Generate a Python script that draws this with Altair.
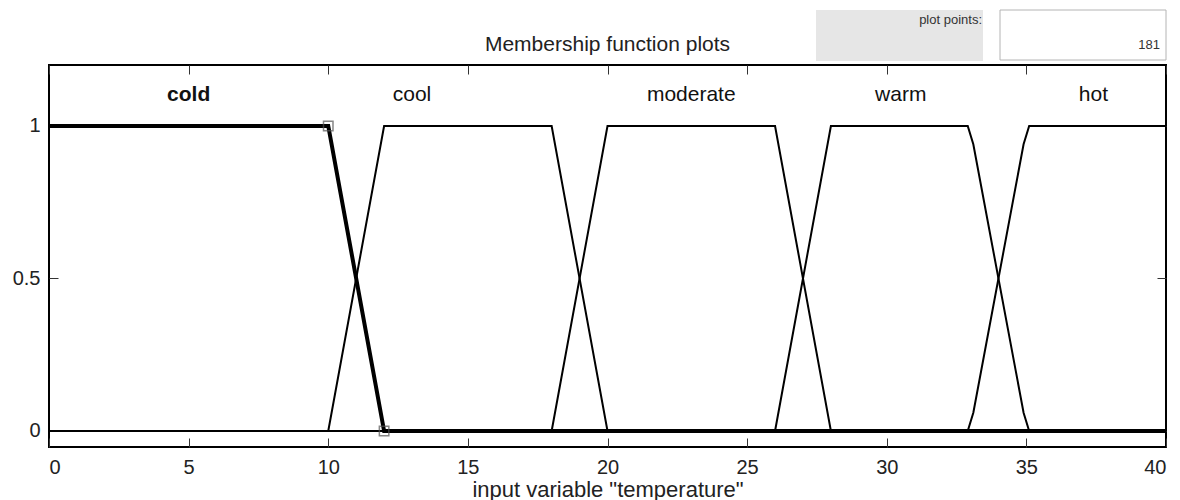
import altair as alt
import pandas as pd

# Membership functions of the input variable "temperature" (vertices of each curve)
cold_x = [0, 10, 12, 40]
cold_mu = [1, 1, 0, 0]
cool_x = [0, 10, 12, 18, 20, 40]
cool_mu = [0, 0, 1, 1, 0, 0]
moderate_x = [0, 18, 20, 26, 28, 40]
moderate_mu = [0, 0, 1, 1, 0, 0]
warm_x = [0, 26, 28, 32.9, 33.1, 34.9, 35.1, 40]
warm_mu = [0, 0, 1, 1, 0.94, 0.06, 0, 0]
hot_x = [0, 32.9, 33.1, 34.9, 35.1, 40]
hot_mu = [0, 0, 0.06, 0.94, 1, 1]

# Names and label anchor positions
mf_names = ["cold", "cool", "moderate", "warm", "hot"]
label_x = [5, 13, 23, 30.5, 37.4]
label_mu = [1.1, 1.1, 1.1, 1.1, 1.1]
label_bold = [True, False, False, False, False]

# Selected function's editable vertices
handle_x = [10, 12]
handle_mu = [1, 0]

x_ticks = [0, 5, 10, 15, 20, 25, 30, 35, 40]
y_ticks = [0, 0.5, 1]
plot_points = "181"
plot_title = "Membership function plots"

curves = {
    "cold": (cold_x, cold_mu),
    "cool": (cool_x, cool_mu),
    "moderate": (moderate_x, moderate_mu),
    "warm": (warm_x, warm_mu),
    "hot": (hot_x, hot_mu),
}
rows = []
for name, (xs_, ms_) in curves.items():
    for i, (a, b) in enumerate(zip(xs_, ms_)):
        rows.append({"mf": name, "i": i, "x": a, "mu": b})
df = pd.DataFrame(rows)
df_thin = df[df.mf != "cold"]
df_cold = df[df.mf == "cold"]
df_labels = pd.DataFrame({"name": mf_names, "x": label_x, "mu": label_mu, "bold": label_bold})
df_bold = df_labels[df_labels.bold]
df_plain = df_labels[~df_labels.bold]
df_handles = pd.DataFrame({"x": handle_x, "mu": handle_mu})
one = pd.DataFrame({"k": [0]})

FONT = "Liberation Sans"
W, H = 1117, 382
xs = alt.Scale(domain=[0, 40], nice=False, zero=False)
ys = alt.Scale(domain=[-0.0525, 1.2], nice=False, zero=False)

thin = alt.Chart(df_thin).mark_line(color="black", strokeWidth=2).encode(
    x=alt.X("x:Q", scale=xs, axis=alt.Axis(orient="bottom", values=x_ticks, offset=-9, tickSize=9,
                                           labelPadding=10, title='input variable "temperature"',
                                           titlePadding=2)),
    y=alt.Y("mu:Q", scale=ys, axis=alt.Axis(orient="left", values=y_ticks, offset=-9, tickSize=9,
                                            labelPadding=9, title=None,
                                            labelExpr="datum.value + ''")),
    detail="mf:N",
    order="i:Q",
)

cold = alt.Chart(df_cold).mark_line(color="black", strokeWidth=4).encode(
    x=alt.X("x:Q", scale=xs, axis=alt.Axis(orient="top", values=x_ticks, offset=-9, tickSize=9,
                                           labels=False, title=None)),
    y=alt.Y("mu:Q", scale=ys, axis=alt.Axis(orient="right", values=y_ticks, offset=-9, tickSize=9,
                                            labels=False, title=None)),
    order="i:Q",
)

handles = alt.Chart(df_handles).mark_point(shape="square", size=90, filled=False,
                                           stroke="#555555", strokeWidth=1.5).encode(
    x=alt.X("x:Q", scale=xs, axis=None),
    y=alt.Y("mu:Q", scale=ys, axis=None),
)

labels_bold = alt.Chart(df_bold).mark_text(font=FONT, fontSize=21, fontWeight="bold",
                                           color="#111111", baseline="middle", align="center").encode(
    x=alt.X("x:Q", scale=xs, axis=None),
    y=alt.Y("mu:Q", scale=ys, axis=None),
    text="name:N",
)
labels_plain = alt.Chart(df_plain).mark_text(font=FONT, fontSize=21, fontWeight="normal",
                                             color="#111111", baseline="middle", align="center").encode(
    x=alt.X("x:Q", scale=xs, axis=None),
    y=alt.Y("mu:Q", scale=ys, axis=None),
    text="name:N",
)

# Heading above the axes, centred on the plot area
heading = alt.Chart(one).mark_text(font=FONT, fontSize=21, color="#222222", align="center",
                                   baseline="alphabetic").encode(
    x=alt.value(W / 2), y=alt.value(-14), text=alt.value(plot_title))

# "plot points" control above the axes
gray_box = alt.Chart(one).mark_rect(color="#e6e6e6").encode(
    x=alt.value(767), x2=alt.value(934), y=alt.value(-55), y2=alt.value(-4))
white_box = alt.Chart(one).mark_rect(fill="white", stroke="#b4b4b4", strokeWidth=1).encode(
    x=alt.value(951), x2=alt.value(1117), y=alt.value(-55), y2=alt.value(-5))
pp_label = alt.Chart(one).mark_text(font=FONT, fontSize=13, color="#333333", align="right",
                                    baseline="middle").encode(
    x=alt.value(933), y=alt.value(-45), text=alt.value("plot points:"))
pp_value = alt.Chart(one).mark_text(font=FONT, fontSize=13, color="#333333", align="right",
                                    baseline="middle").encode(
    x=alt.value(1111), y=alt.value(-20), text=alt.value(plot_points))

chart = alt.layer(
    thin, cold, handles, labels_bold, labels_plain,
    heading, gray_box, white_box, pp_label, pp_value
).resolve_axis(
    x="independent", y="independent"
).properties(
    width=W,
    height=H,
    autosize="none",
    background="white",
    padding={"left": 49, "top": 65, "right": 14, "bottom": 53},
).configure_view(
    stroke="black", strokeWidth=2
).configure_axis(
    domain=False, grid=False, tickColor="#333333", tickWidth=1,
    labelFont=FONT, labelFontSize=20, labelColor="#222222",
    titleFont=FONT, titleFontSize=22, titleFontWeight="normal", titleColor="#222222",
)

chart.save("out.html", embed_options={"renderer": "svg", "actions": False})
